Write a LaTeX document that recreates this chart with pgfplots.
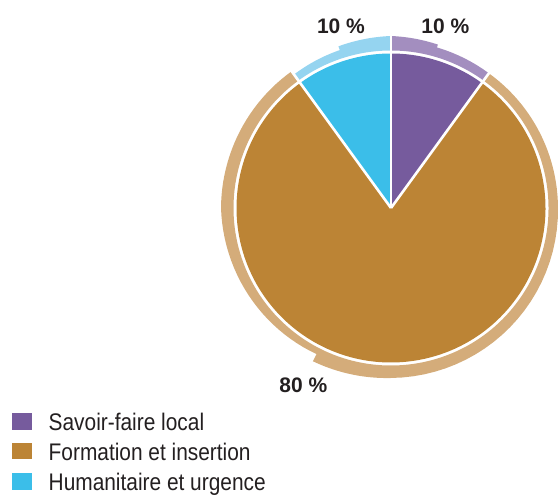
\documentclass[border=0pt]{standalone}
\usepackage{pgfplots}
\pgfplotsset{compat=1.18}
\usepackage{fontspec}
\setmainfont{Liberation Sans}
\newfontfamily\legfont{Liberation Sans}[FakeStretch=0.87]
\definecolor{purp}{HTML}{765B9D}
\definecolor{purpL}{HTML}{A38EBF}
\definecolor{orng}{HTML}{BC8435}
\definecolor{orngL}{HTML}{D4AC7A}
\definecolor{cyn}{HTML}{3BBEE9}
\definecolor{cynL}{HTML}{95D4F0}
\definecolor{txt}{HTML}{231F20}
% data (percent)
\def\vSavoir{10}
\def\vFormation{80}
\def\vHuman{10}
% centre and radii (px = pt)
\def\cx{391}\def\cy{287}
\def\rpie{154.5}\def\rin{157.5}
\newcommand{\oseg}[4]{\foreach \k in {0,...,24}{ -- (axis cs:{\cx+(#3+(#4-#3)*\k/24)*cos(#1+(#2-#1)*\k/24)},{\cy+(#3+(#4-#3)*\k/24)*sin(#1+(#2-#1)*\k/24)}) }}
\newcommand{\PP}[2]{(axis cs:{\cx+#2*cos(#1)},{\cy+#2*sin(#1)})}
\begin{document}
\begin{tikzpicture}
\begin{axis}[name=ax,x=1pt,y=1pt,xmin=0,xmax=558,ymin=0,ymax=495,hide axis,scale only axis,clip=false]
\path (axis cs:0,0) rectangle (axis cs:558,495);
\pgfmathsetmacro{\aA}{90}
\pgfmathsetmacro{\aB}{90-3.6*\vSavoir}
\pgfmathsetmacro{\aC}{\aB-3.6*\vFormation}
\pgfmathsetmacro{\aD}{\aC-3.6*\vHuman}
% slices
\fill[purp] (axis cs:\cx,\cy) -- \PP{\aA}{\rpie} arc[start angle=\aA,end angle=\aB,radius=\rpie pt] -- cycle;
\fill[orng] (axis cs:\cx,\cy) -- \PP{\aB}{\rpie} arc[start angle=\aB,end angle=\aC,radius=\rpie pt] -- cycle;
\fill[cyn] (axis cs:\cx,\cy) -- \PP{\aC}{\rpie} arc[start angle=\aC,end angle=\aD,radius=\rpie pt] -- cycle;
% outer ring pieces
\fill[purpL] \PP{90}{\rin} arc[start angle=90,end angle=54,radius=\rin pt] \oseg{54}{74}{166.5}{167} -- \PP{74}{170} \oseg{74}{90}{170}{172} -- cycle;
\fill[cynL] \PP{90}{\rin} arc[start angle=90,end angle=126,radius=\rin pt] \oseg{126}{108}{165}{166} -- \PP{108}{170} \oseg{108}{90}{170}{172} -- cycle;
\fill[orngL] \PP{54}{\rin} arc[start angle=54,end angle=-234,radius=\rin pt] \oseg{-234}{-180}{169}{170} \oseg{-180}{-117}{170}{164} -- \PP{-117}{172} \oseg{-117}{-90}{172}{170} \oseg{-90}{0}{170}{167} \oseg{0}{54}{167}{166.5} -- cycle;
% white separators
\draw[white,line width=2.6pt] (axis cs:\cx,\cy) -- \PP{\aA}{185};
\draw[white,line width=2.6pt] (axis cs:\cx,\cy) -- \PP{\aB}{185};
\draw[white,line width=2.6pt] (axis cs:\cx,\cy) -- \PP{\aC}{185};
% labels
\node[anchor=base,inner sep=0,text=txt,font=\fontsize{21}{21}\selectfont\bfseries] at (axis cs:341,461.7) {\vHuman\ \%};
\node[anchor=base,inner sep=0,text=txt,font=\fontsize{21}{21}\selectfont\bfseries] at (axis cs:445.3,461.7) {\vSavoir\ \%};
\node[anchor=base,inner sep=0,text=txt,font=\fontsize{21}{21}\selectfont\bfseries] at (axis cs:303.3,102.3) {\vFormation\ \%};
% legend
\fill[purp] (axis cs:11.7,65) rectangle (axis cs:32.3,81.7);
\fill[orng] (axis cs:11.7,35.7) rectangle (axis cs:32.3,52.3);
\fill[cyn] (axis cs:11.7,5) rectangle (axis cs:32.3,22.3);
\node[anchor=base west,inner sep=0,text=txt,font=\legfont\fontsize{24}{24}\selectfont] at (axis cs:48.5,64.3) {Savoir-faire local};
\node[anchor=base west,inner sep=0,text=txt,font=\legfont\fontsize{24}{24}\selectfont] at (axis cs:48.5,34) {Formation et insertion};
\node[anchor=base west,inner sep=0,text=txt,font=\legfont\fontsize{24}{24}\selectfont] at (axis cs:48.5,4) {Humanitaire et urgence};
\end{axis}
\pgfresetboundingbox
\useasboundingbox (ax.south west) rectangle (ax.north east);
\end{tikzpicture}
\end{document}
